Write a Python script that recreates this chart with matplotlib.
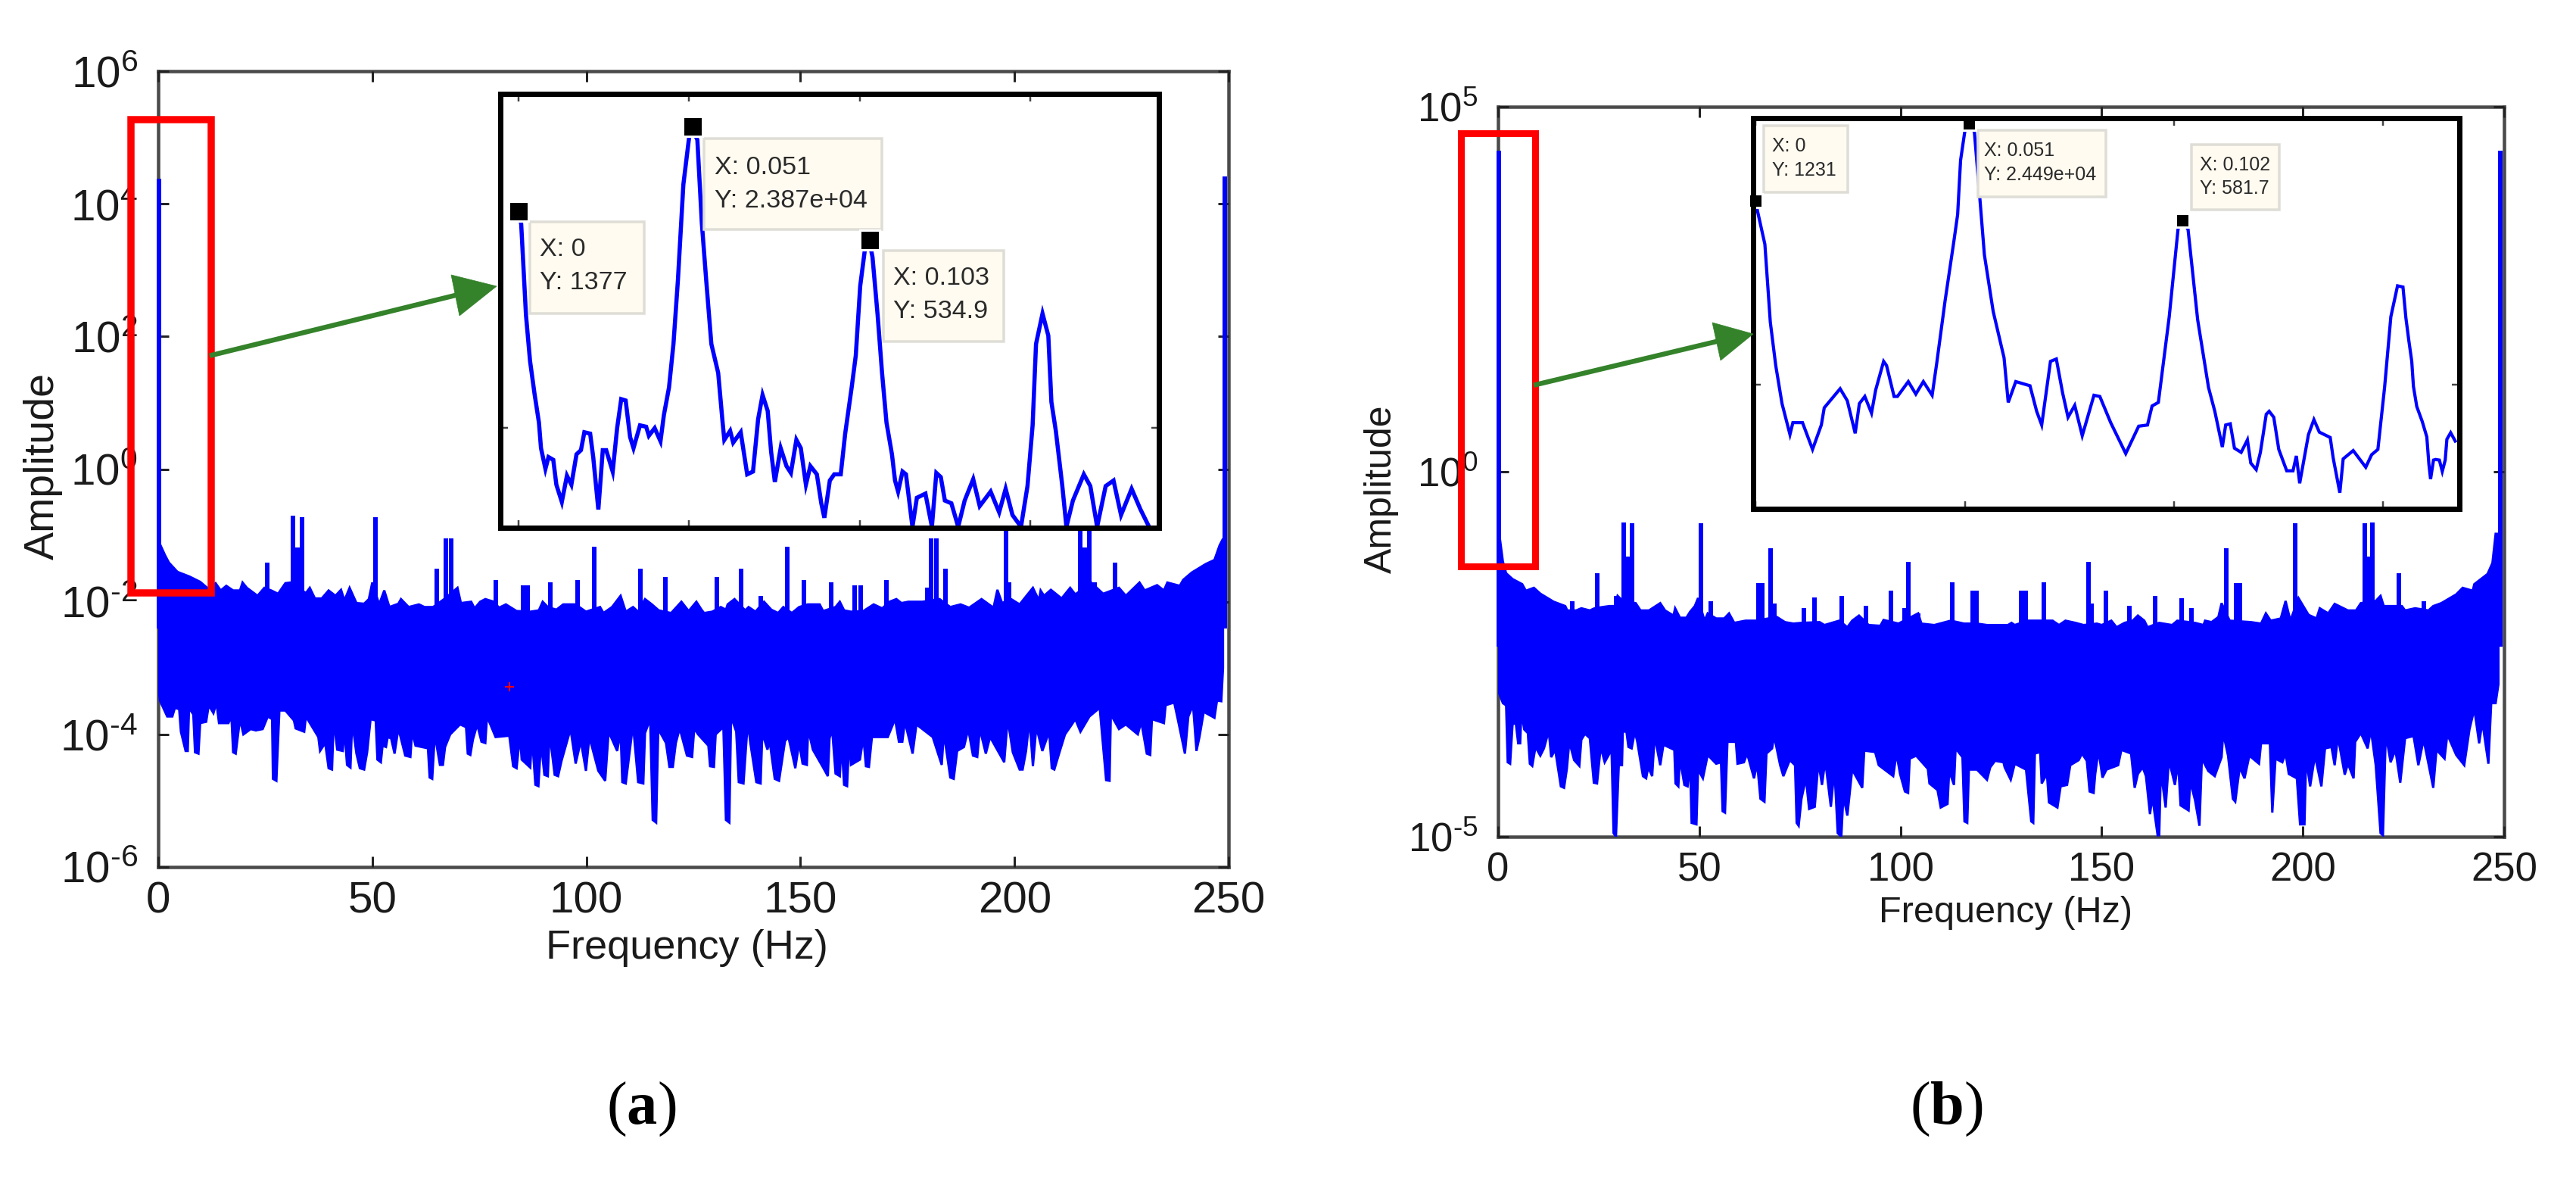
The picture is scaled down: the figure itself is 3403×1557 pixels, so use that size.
import numpy as np
import matplotlib
matplotlib.use("Agg")
import matplotlib.pyplot as plt
from matplotlib.lines import Line2D
from matplotlib.patches import Polygon, Rectangle

plt.rcParams['font.family'] = ['Liberation Sans', 'DejaVu Sans']
plt.rcParams['mathtext.fontset'] = 'custom'
plt.rcParams['mathtext.rm'] = 'Liberation Sans'
plt.rcParams['mathtext.it'] = 'Liberation Sans:italic'
plt.rcParams['mathtext.bf'] = 'Liberation Serif:bold'
plt.rcParams['mathtext.default'] = 'regular'

# ---- values: (frequency Hz, log10 amplitude) ----
a_upper = [(0.1,-1.1),(0.4,-1.13),(1.6,-1.30),(2.5,-1.41),(4.5,-1.55),(7.3,-1.62),(9.8,-1.70),(11.8,-1.81),(13.4,-1.72),(14.6,-1.83),(15.9,-1.76),(17.5,-1.83),(19.1,-1.83),(19.7,-1.71),(20.7,-1.79),(23.2,-1.91),(24.8,-1.79),(26.4,-1.83),(28.0,-1.88),(29.7,-1.72),(30.9,-1.71),(34.5,-1.87),(35.4,-1.79),(36.6,-1.95),(38.2,-1.95),(39.8,-1.83),(41.4,-1.91),(42.7,-1.82),(43.5,-1.98),(44.7,-1.79),(46.3,-2.02),(48.1,-2.03),(49.2,-1.96),(50.0,-1.71),(51.6,-2.04),(52.8,-1.83),(54.0,-2.08),(56.1,-2.03),(56.7,-1.96),(58.5,-2.08),(60.9,-2.04),(62.2,-2.08),(64.2,-2.08),(67.0,-1.95),(69.9,-1.79),(70.7,-2.02),(73.1,-2.0),(73.9,-2.1),(75.2,-2.0),(76.4,-1.96),(78.4,-2.0),(79.6,-2.09),(81.2,-2.04),(83.7,-2.14),(86.9,-2.15),(88.9,-2.13),(89.8,-2.0),(91.0,-2.08),(93.0,-2.12),(94.6,-2.04),(97.5,-2.04),(99.9,-2.15),(103.2,-2.08),(104.0,-2.17),(106.0,-2.08),(108.0,-1.91),(109.2,-2.15),(110.9,-2.08),(112.1,-2.15),(113.7,-1.96),(115.3,-2.04),(116.9,-2.13),(119.8,-2.17),(122.2,-2.0),(123.9,-2.14),
(125.7,-2.0),(126.9,-2.12),(127.5,-2.17),(129.4,-2.15),(131.4,-2.08),(132.6,-2.12),(133.0,-2.04),(134.6,-1.96),(137.1,-2.13),(137.9,-2.08),(139.5,-2.15),(141.5,-2.0),(143.2,-2.12),(144.8,-2.17),(146.0,-2.08),(148.0,-2.17),(149.7,-2.08),(151.7,-2.04),(154.5,-2.04),(155.3,-2.14),(158.2,-2.08),(159.2,-2.0),(160.2,-2.13),(161.8,-2.15),(164.7,-2.14),(167.1,-2.04),(169.1,-2.1),(170.8,-2.0),(172.4,-1.96),(173.6,-2.02),(175.2,-2.0),(178.5,-2.0),(182.5,-1.96),(185.0,-2.08),(187.4,-2.04),(189.4,-2.09),(192.3,-1.96),(195.1,-2.09),(196.0,-1.82),(197.1,-2.02),(199.2,-1.96),(201.2,-2.04),(202.8,-1.91),(204.3,-1.79),(205.7,-1.98),(206.1,-1.83),(206.9,-1.91),(208.5,-1.82),(211.0,-1.95),(213.0,-1.79),(214.2,-1.89),(217.9,-1.71),(220.7,-1.88),(224.4,-1.79),(226.0,-1.91),(229.2,-1.71),(230.4,-1.83),(233.3,-1.75),(234.9,-1.83),(235.7,-1.71),(238.6,-1.76),(239.4,-1.67),(241.4,-1.56),(244.7,-1.43),(246.7,-1.37),(247.9,-1.15),(248.7,-1.05)]

a_lower = [(0.1,-3.3),(0.4,-3.49),(2.1,-3.73),(3.3,-3.73),(3.9,-3.6),(4.9,-3.62),(5.3,-3.96),(6.4,-4.25),(6.9,-4.25),(7.2,-3.6),(8.2,-3.70),(8.6,-4.27),(9.4,-4.29),(9.8,-3.83),(11.2,-3.81),(11.8,-3.56),(12.9,-3.68),(13.6,-3.52),(14.2,-3.83),(16.4,-3.83),(17.1,-3.73),(17.5,-4.27),(18.1,-4.29),(19.1,-3.77),(19.9,-4.0),(21.6,-3.92),(22.8,-3.94),(24.4,-3.92),(25.6,-3.73),(26.6,-3.77),(26.8,-4.67),(27.6,-4.70),(28.3,-3.64),(29.7,-3.64),(31.7,-3.79),(32.1,-3.91),(34.1,-3.96),(34.5,-3.73),(37.4,-4.04),(37.8,-4.25),(39.0,-4.13),(39.8,-4.51),(40.6,-4.53),(41.0,-3.77),(41.8,-4.23),(43.1,-4.25),(43.5,-3.92),(44.1,-4.46),(44.9,-4.5),(45.3,-3.81),(46.3,-4.29),(47.1,-4.51),(48.1,-4.53),(48.8,-4.27),(49.6,-3.77),(50.8,-3.79),(51.2,-4.38),(52.0,-4.42),(52.4,-4.17),(53.2,-4.19),(53.6,-4.04),(54.4,-4.06),(55.2,-4.29),(56.1,-3.91),(57.7,-4.32),(58.9,-4.34),(59.3,-3.96),(60.1,-4.17),(63.0,-4.21),(63.4,-4.65),(64.0,-4.67),(64.6,-4.0),(65.8,-4.46),(66.5,-4.46),(67.0,-4.19),(68.2,-4.0),(70.5,-3.85),(71.9,-3.89),(72.3,-4.29),(72.9,-4.31),(73.5,-4.08),(74.5,-3.85),(75.5,-4.11),(76.4,-4.13),(76.8,-3.73),(78.8,-4.04),(82.0,-4.02),(82.9,-4.48),(83.7,-4.51),(84.5,-4.02),(84.9,-4.38),(86.9,-4.5),(87.3,-4.04),(88.1,-4.76),(88.8,-4.78),(89.4,-4.13),(90.2,-4.61),(91.0,-4.63),(91.4,-3.98),(92.6,-4.61),(93.4,-4.63),(94.2,-4.4),(96.3,-3.92),(97.5,-4.44),(98.7,-4.1),(99.9,-4.55),(100.7,-4.04),(102.8,-4.55),(104.4,-4.7),(105.2,-3.96),(107.2,-4.25),(108.0,-3.96),(108.4,-4.72),(109.2,-4.74),(110.9,-3.85),(112.1,-4.72),(113.3,-4.74),(113.7,-3.98),(114.9,-3.77),(115.5,-5.29),(116.3,-5.33),(116.8,-3.92),(118.6,-4.13),(119.4,-4.49),(120.2,-4.49),(120.9,-4.13),(121.8,-3.91),(123.5,-4.32),(124.7,-4.34),(125.2,-3.91),
(126.1,-4.0),(128.5,-4.17),(128.9,-4.48),(129.8,-4.49),(130.2,-4.0),(132.0,-3.89),(132.6,-5.29),(133.4,-5.33),(133.8,-3.73),(135.0,-3.96),(135.6,-4.72),(136.7,-4.74),(137.7,-3.81),(138.3,-4.13),(139.7,-4.72),(140.7,-4.74),(141.1,-3.98),(142.3,-4.23),(142.8,-4.1),(144.0,-4.67),(145.0,-4.7),(146.4,-4.1),(147.2,-4.04),(148.8,-4.51),(149.7,-4.13),(150.5,-4.44),(151.5,-4.46),(151.8,-3.92),(152.9,-4.23),(155.3,-4.5),(156.4,-4.63),(156.8,-4.06),(157.4,-3.92),(158.2,-4.59),(159.2,-4.63),(159.6,-4.13),(160.2,-4.76),(160.9,-4.78),(161.4,-4.06),(161.8,-4.46),(163.9,-4.38),(164.7,-4.04),(165.3,-4.48),(166.0,-4.49),(166.7,-4.04),(170.4,-4.04),(172.1,-3.77),(173.0,-4.11),(173.8,-4.11),(174.4,-3.81),(176.2,-4.29),(177.1,-3.85),(180.9,-4.04),(183.0,-4.46),(183.5,-3.98),(185.0,-4.65),(185.8,-4.67),(186.6,-4.25),(188.2,-4.19),(189.2,-3.92),(190.3,-4.32),(191.3,-4.34),(191.9,-3.92),(193.3,-4.29),(194.3,-4.04),(197.6,-4.42),(198.4,-3.77),(199.6,-4.27),(201.2,-4.53),(201.9,-4.53),(202.7,-4.25),(203.5,-3.77),(204.3,-4.48),(205.1,-3.89),(206.5,-4.25),(208.1,-3.96),(208.7,-4.51),(209.3,-4.53),(210.6,-4.25),(211.8,-4.0),(213.4,-3.85),(214.2,-3.77),(215.4,-3.96),(217.5,-3.73),(219.9,-3.6),(221.4,-4.69),(222.2,-4.7),(222.5,-3.70),(224.4,-3.92),(226.0,-3.85),(228.8,-4.0),(229.6,-3.81),(230.9,-4.29),(231.7,-4.31),(232.1,-3.77),(234.9,-3.83),(235.3,-3.56),(237.3,-3.52),(238.2,-3.79),(239.8,-4.29),(240.6,-3.73),(241.7,-3.56),(242.5,-4.25),(243.2,-4.04),(244.2,-3.66),(246.7,-3.75),(247.3,-3.49),(248.3,-3.5),(248.7,-3.0)]

a_spike_f = [0.1,249.1,25.5,31.5,32.5,33.6,50.8,65.0,67.2,68.4,78.8,85.2,86.3,91.6,98.0,101.8,112.7,118.4,130.4,136.1,140.7,147.0,150.9,157.2,162.7,164.0,170.0,179.7,180.6,181.8,183.9,198.0,198.8,215.4,216.4,217.4,218.7,223.5]
a_spike_e = [4.38,4.41,-1.41,-0.70,-1.18,-0.72,-0.72,-1.50,-1.05,-1.05,-1.67,-1.75,-1.75,-1.71,-1.67,-1.17,-1.50,-1.63,-1.63,-1.50,-1.91,-1.17,-1.67,-1.71,-1.75,-1.75,-1.67,-1.79,-1.05,-1.05,-1.50,-0.72,-1.71,-0.72,-1.18,-0.70,-1.71,-1.41]

b_upper = [(0.1,-0.85),(0.3,-0.85),(1.2,-1.23),(2.0,-1.39),(3.6,-1.47),(6.0,-1.54),(6.9,-1.63),(8.9,-1.59),(10.5,-1.67),(13.8,-1.78),(16.7,-1.84),(17.2,-1.9),(18.0,-1.9),(19.4,-1.9),(20.7,-1.87),(22.8,-1.9),(24.0,-1.87),(26.4,-1.85),(27.7,-1.84),(29.1,-1.84),(29.7,-1.7),(31.0,-1.77),(34.2,-1.8),(35.4,-1.9),(37.5,-1.9),(40.3,-1.8),(41.5,-1.9),(43.6,-1.97),(44.0,-1.87),(45.2,-2.0),(46.8,-2.0),(47.7,-1.92),(48.9,-1.84),(49.7,-1.73),(51.3,-2.04),(52.1,-1.94),(54.2,-2.01),(56.2,-2.01),(57.4,-1.94),(58.7,-2.07),(61.5,-2.04),(64.0,-2.04),(69.3,-1.99),(71.3,-2.06),(73.4,-2.08),(75.4,-2.07),(79.9,-2.06),(81.1,-2.1),(84.8,-2.04),(86.8,-2.13),(88.0,-2.04),(89.7,-1.97),(92.1,-2.1),(95.0,-2.11),(95.8,-2.03),(99.5,-2.08),(104.4,-1.94),(105.2,-2.08),(108.4,-2.1),(112.5,-2.04),(115.8,-2.08),(119.0,-2.08),(121.5,-2.1),
(124.3,-2.1),(126.7,-2.1),(127.6,-2.07),(128.4,-2.1),(131.6,-2.04),(134.1,-2.04),(137.8,-2.04),(139.4,-2.1),(141.0,-2.04),(143.5,-2.07),(145.5,-2.1),(148.8,-2.08),(150.0,-2.1),(152.4,-2.04),(153.7,-2.13),(155.7,-2.07),(157.7,-2.04),(159.0,-1.97),(160.6,-2.04),(161.4,-2.13),(164.3,-2.07),(167.5,-2.1),(168.8,-2.04),(173.2,-2.07),(175.3,-2.1),(175.7,-2.04),(177.3,-2.06),(179.0,-1.99),(179.8,-1.8),(181.8,-2.04),(187.1,-2.06),(189.6,-2.08),(190.8,-1.94),(192.0,-2.04),(194.5,-2.01),(195.7,-1.77),(196.9,-2.04),(198.9,-1.73),(201.4,-1.96),(203.4,-2.01),(204.2,-1.87),(206.3,-1.94),(207.9,-1.81),(211.2,-1.9),(213.2,-1.9),(214.4,-1.8),(218.1,-1.77),(219.3,-1.7),(220.1,-1.84),(224.6,-1.84),(225.4,-1.9),(227.9,-1.87),(231.2,-1.9),(232.4,-1.84),(234.4,-1.8),(238.1,-1.68),(239.7,-1.59),(242.2,-1.63),(242.6,-1.54),(245.9,-1.4),(247.1,-1.25),(247.9,-0.85),(248.6,-0.85)]

b_lower = [(0.1,-3.01),(1.2,-3.17),(2.0,-3.2),(2.4,-3.98),(3.0,-4.0),(3.6,-3.46),(4.4,-3.44),(5.0,-3.72),(5.5,-3.72),(5.8,-3.29),(6.5,-3.53),(7.4,-3.58),(7.9,-4.0),(8.5,-4.03),(9.3,-3.77),(10.5,-3.89),(11.4,-3.79),(12.6,-3.55),(13.2,-3.91),(14.2,-3.81),(15.6,-4.31),(16.4,-4.33),(17.1,-4.07),(17.7,-3.7),(18.9,-3.95),(20.2,-4.03),(20.7,-3.67),(21.6,-3.59),(22.8,-3.65),(23.8,-4.26),(24.6,-4.27),(25.5,-3.77),(26.5,-3.98),(27.7,-3.86),(28.1,-3.58),(28.7,-4.95),(29.3,-5.0),(30.0,-4.02),(30.8,-4.02),(31.0,-3.56),(31.9,-3.56),(32.4,-3.77),(33.2,-3.79),(34.0,-3.56),(34.6,-3.7),(36.0,-4.17),(36.8,-4.2),(37.3,-4.05),(38.3,-4.17),(38.9,-3.62),(40.3,-4.02),(41.1,-3.74),(43.8,-3.81),(44.1,-4.27),(44.8,-4.31),(45.2,-3.93),(46.3,-4.29),(47.1,-4.31),(47.7,-3.98),(48.1,-4.81),(49.3,-4.83),(49.7,-4.08),(50.9,-4.2),(52.1,-3.88),(54.2,-4.0),(55.4,-3.98),(55.8,-4.65),(56.4,-4.67),(57.0,-3.7),(59.1,-3.7),(59.5,-4.0),(61.1,-3.98),(61.9,-3.86),(63.6,-4.2),(64.4,-4.0),(65.2,-4.48),(66.2,-4.52),(66.7,-3.86),(68.1,-3.79),(68.6,-3.62),(70.1,-4.02),(70.9,-4.17),(72.5,-3.95),(73.8,-4.02),(74.2,-4.81),(74.7,-4.85),(75.4,-4.48),(76.5,-4.2),(77.3,-4.62),(78.7,-4.59),(79.6,-3.98),(80.5,-4.29),(81.3,-3.96),(82.7,-4.59),(83.6,-4.08),(84.4,-4.95),(85.3,-5.0),(85.8,-4.45),(86.8,-4.71),(88.0,-4.08),(90.5,-4.33),(91.0,-3.82),(93.7,-3.84),(94.6,-4.02),(98.2,-4.17),(99.0,-3.86),(99.9,-4.14),(101.1,-4.38),(101.9,-4.4),(102.3,-3.93),(103.9,-3.89),(106.8,-4.07),(107.2,-4.27),(109.2,-4.36),(110.0,-4.6),(111.7,-4.55),(112.1,-4.1),(113.3,-4.29),(113.7,-3.79),(115.4,-3.91),(115.9,-4.79),(116.6,-4.81),(117.0,-4.08),(119.0,-4.08),(121.5,-4.22),(122.3,-4.05),(123.5,-3.96),(125.6,-3.98),
(125.9,-4.05),(127.4,-4.22),(128.4,-4.0),(131.2,-4.08),(132.5,-4.79),(133.0,-4.81),(133.4,-3.86),(134.7,-3.84),(135.1,-4.27),(136.4,-4.14),(136.9,-4.53),(139.0,-4.6),(139.8,-4.31),(141.4,-4.29),(142.2,-4.02),(144.3,-3.95),(145.1,-3.86),(146.3,-3.96),(147.0,-4.38),(148.0,-4.4),(148.4,-4.14),(149.2,-3.82),(150.2,-4.19),(151.2,-4.08),(154.1,-4.02),(154.9,-3.81),(157.3,-3.86),(158.2,-4.33),(159.0,-4.14),(160.2,-4.05),(161.0,-4.17),(162.0,-4.69),(162.6,-4.46),(163.9,-4.98),(164.3,-4.98),(164.7,-4.1),(165.9,-4.6),(166.7,-3.95),(168.2,-4.29),(169.0,-3.98),(169.6,-4.57),(171.6,-4.64),(172.0,-4.24),(173.2,-4.5),(174.3,-4.85),(174.9,-3.93),(176.5,-4.1),(178.1,-4.17),(179.8,-3.91),(180.2,-3.58),(181.4,-3.89),(182.6,-4.48),(183.2,-4.52),(184.3,-4.05),(185.5,-4.2),(186.7,-3.89),(189.1,-4.0),(189.6,-3.72),(191.8,-3.72),(192.4,-4.67),(193.2,-3.93),(194.9,-3.98),(195.7,-3.86),(196.5,-4.14),(198.5,-4.2),(199.3,-4.83),(200.4,-4.83),(200.8,-3.93),(201.8,-4.31),(203.0,-3.89),(204.6,-4.31),(205.5,-3.79),(207.1,-3.77),(207.9,-4.02),(208.7,-3.63),(210.4,-4.15),(211.2,-4.0),(212.6,-4.2),(213.0,-3.7),(214.4,-3.58),(216.1,-3.79),(216.9,-3.53),(218.1,-4.02),(219.3,-4.95),(219.9,-4.98),(220.6,-3.6),(221.8,-3.98),(223.0,-3.81),(224.2,-4.26),(225.4,-3.65),(227.5,-3.62),(228.7,-4.02),(230.0,-3.67),(232.4,-4.33),(233.2,-3.81),(235.2,-3.93),(235.9,-3.6),(238.1,-3.88),(240.1,-4.02),(241.4,-3.53),(242.6,-3.25),(243.8,-3.72),(244.6,-3.43),(246.1,-4.0),(246.8,-3.17),(247.9,-3.17),(248.6,-2.91)]

b_spike_f = [0.1,249.1,18.5,24.7,29.3,31.3,32.3,33.3,50.5,52.8,64.7,65.6,67.7,68.6,76.0,78.7,85.4,91.5,97.7,101.1,101.9,104.4,112.9,118.0,118.9,129.9,131.2,135.6,146.7,147.5,151.0,156.9,163.2,169.8,172.4,181.0,183.4,184.4,198.1,215.3,216.2,217.3,223.8,230.1]
b_spike_e = [4.40,4.40,-1.77,-1.39,-1.7,-0.69,-1.16,-0.71,-0.71,-1.77,-1.53,-1.53,-1.05,-1.8,-1.87,-1.72,-1.7,-1.84,-1.63,-1.87,-1.23,-1.94,-1.51,-1.63,-1.63,-1.63,-1.63,-1.51,-1.23,-1.8,-1.63,-1.84,-1.7,-1.73,-1.87,-1.05,-1.53,-1.53,-0.71,-0.71,-1.16,-0.69,-1.39,-1.77]

a_inset = [(0.0,3.14),(0.0008,2.96),(0.0022,1.64),(0.0034,0.97),(0.0047,0.50),(0.0060,0.08),(0.0066,-0.29),(0.0079,-0.59),(0.0088,-0.42),(0.0102,-0.46),(0.0111,-0.82),(0.0127,-1.07),(0.0142,-0.69),(0.0155,-0.82),(0.0170,-0.38),(0.0183,-0.32),(0.0193,-0.06),(0.0210,-0.08),(0.0219,-0.42),(0.0234,-1.18),(0.0247,-0.32),(0.0257,-0.32),(0.0276,-0.63),(0.0289,0.0),(0.0301,0.42),(0.0314,0.40),(0.0327,-0.13),(0.0337,-0.29),(0.0356,0.04),(0.0374,0.02),(0.0382,-0.11),(0.0399,0.0),(0.0416,-0.19),(0.0426,0.19),(0.0441,0.59),(0.0454,1.22),(0.0467,2.14),(0.0483,3.53),(0.0499,4.18),(0.0505,4.38),(0.0524,4.18),(0.0537,2.98),(0.0550,2.14),(0.0565,1.22),(0.0585,0.80),(0.0598,0.08),(0.0603,-0.17),(0.0620,-0.04),(0.0629,-0.21),(0.0651,-0.06),(0.0670,-0.67),(0.0687,-0.63),(0.0702,0.13),(0.0715,0.48),(0.0730,0.25),(0.0740,-0.34),(0.0751,-0.78),(0.0768,-0.29),(0.0785,-0.55),(0.0798,-0.65),(0.0814,-0.17),(0.0827,-0.29),(0.0842,-0.82),(0.0855,-0.55),(0.0874,-0.67),(0.0887,-1.09),(0.0896,-1.30),(0.0912,-0.76),(0.0925,-0.67),(0.0944,-0.67),(0.0957,-0.08),(0.0976,0.59),(0.0988,1.05),(0.1001,2.06),(0.1014,2.56),(0.1027,2.73),(0.1037,2.48),(0.1052,1.64),(0.1065,0.80),(0.1078,0.08),(0.1094,-0.38),(0.1103,-0.76),(0.1112,-0.92),(0.1125,-0.63),(0.1135,-0.67),(0.1154,-1.43),(0.1167,-1.01),(0.1192,-0.95),(0.1211,-1.43),(0.1224,-0.65),(0.1237,-0.71),(0.1249,-1.05),(0.1268,-1.09),(0.1288,-1.43),(0.1307,-1.05),(0.1332,-0.74),(0.1351,-1.13),(0.1383,-0.92),(0.1408,-1.22),(0.1427,-0.88),(0.1447,-1.26),(0.1472,-1.43),(0.1491,-0.84),(0.1506,0.04),(0.1516,1.22),(0.1535,1.66),(0.1552,1.34),(0.1561,0.38),(0.1574,-0.04),(0.1593,-0.84),(0.1605,-1.43),(0.1624,-1.05),(0.1656,-0.67),(0.1675,-0.84),(0.1695,-1.43),(0.1720,-0.84),(0.1743,-0.76),(0.1765,-1.26),(0.1796,-0.88),(0.1822,-1.18),(0.1847,-1.43)]

b_inset = [(0.0,3.09),(0.0004,2.93),(0.0022,2.36),(0.0035,1.05),(0.0048,0.32),(0.0063,-0.32),(0.0082,-0.84),(0.0089,-0.64),(0.0112,-0.64),(0.0136,-1.09),(0.0157,-0.68),(0.0164,-0.39),(0.0202,-0.07),(0.0219,-0.27),(0.0238,-0.82),(0.0248,-0.32),(0.0261,-0.20),(0.0277,-0.48),(0.0287,-0.09),(0.0306,0.39),(0.0313,0.32),(0.0331,-0.20),(0.0339,-0.20),(0.0365,0.05),(0.0383,-0.16),(0.0401,0.05),(0.0422,-0.18),(0.0433,0.36),(0.0453,1.41),(0.0474,2.41),(0.0483,2.86),(0.0490,3.77),(0.05,4.25),(0.0508,4.39),(0.0523,4.25),(0.0535,3.23),(0.0547,2.18),(0.0568,1.23),(0.0594,0.45),(0.0604,-0.30),(0.0622,0.05),(0.0656,-0.02),(0.0672,-0.45),(0.0684,-0.68),(0.0705,0.39),(0.0719,0.43),(0.0734,-0.14),(0.0747,-0.55),(0.0763,-0.35),(0.0781,-0.86),(0.0809,-0.18),(0.0823,-0.20),(0.0849,-0.64),(0.0885,-1.16),(0.0916,-0.70),(0.0937,-0.68),(0.0948,-0.36),(0.0963,-0.30),(0.0989,1.14),(0.1010,2.61),(0.1018,2.76),(0.1034,2.61),(0.1057,1.09),(0.1083,-0.05),(0.1098,-0.45),(0.1116,-1.05),(0.1124,-0.68),(0.1135,-0.66),(0.1145,-1.07),(0.1161,-1.14),(0.1176,-0.93),(0.1184,-1.32),(0.1197,-1.43),(0.1207,-1.14),(0.1221,-0.5),(0.1228,-0.45),(0.1239,-0.55),(0.1251,-1.09),(0.1270,-1.45),(0.1285,-1.45),(0.1293,-1.2),(0.1301,-1.66),(0.1322,-0.84),(0.1335,-0.59),(0.1348,-0.8),(0.1374,-0.89),(0.1381,-1.23),(0.1397,-1.82),(0.1405,-1.25),(0.1429,-1.11),(0.1459,-1.39),(0.1473,-1.18),(0.1488,-1.09),(0.1504,-0.05),(0.1519,1.14),(0.1535,1.66),(0.1548,1.64),(0.1555,1.12),(0.1562,0.74),(0.1569,0.39),(0.1573,-0.03),(0.1581,-0.37),(0.1594,-0.62),(0.1605,-0.88),(0.1610,-1.34),(0.1614,-1.59),(0.1621,-1.27),(0.1626,-1.26),(0.1635,-1.27),(0.1642,-1.46),(0.1649,-1.27),(0.1653,-0.92),(0.1662,-0.81),(0.1673,-0.95)]

a_tips_x = [0.0, 0.051, 0.103]
a_tips_y = [1377, 2.387e4, 534.9]
a_tips_text = [("X: 0", "Y: 1377"), ("X: 0.051", "Y: 2.387e+04"), ("X: 0.103", "Y: 534.9")]
b_tips_x = [0.0, 0.051, 0.102]
b_tips_y = [1231, 2.449e4, 581.7]
b_tips_text = [("X: 0", "Y: 1231"), ("X: 0.051", "Y: 2.449e+04"), ("X: 0.102", "Y: 581.7")]

x_ticks = [0, 50, 100, 150, 200, 250]
a_yticks = [-6, -4, -2, 0, 2, 4, 6]
b_yticks = [-5, 0, 5]
xlabel = "Frequency (Hz)"
ylabel = "Amplitude"

# ---- layout (pixels of the 3403x1557 canvas) ----
W, H = 3403, 1557
DPI = 100
BLUE = "#0000FF"
GREEN = "#34822A"
RED = "#FF0000"
PT = 72.0 / DPI


def fx(x):
    return x / W


def fy(y):
    return 1 - y / H


def axes_px(fig, l, t, r, b):
    return fig.add_axes([l / W, 1 - b / H, (r - l) / W, (b - t) / H])


def exp_label(e):
    s = str(abs(e))
    if e < 0:
        s = r"\text{-}" + s
    return r"$10^{" + s + "}$"


def main_panel(fig, rect, ylim, yticks, upper, lower, spike_f, spike_e,
               fs_tick, fs_label, xlab_xy, ylab_xy):
    ax = axes_px(fig, *rect)
    ax.set_xscale("linear")
    ax.set_yscale("log")
    up = np.array(upper).T
    lo = np.array(lower).T
    px = np.concatenate([up[0], lo[0][::-1]])
    py = 10.0 ** np.concatenate([up[1], lo[1][::-1]])
    ax.fill(px, py, facecolor=BLUE, edgecolor=BLUE, lw=3.0 * PT, joinstyle="miter", zorder=3)
    ax.vlines(spike_f, 10.0 ** -2.4, 10.0 ** np.array(spike_e), color=BLUE,
              lw=6.0 * PT, capstyle="butt", zorder=3, clip_on=False)
    ax.set_xlim(0, 250)
    ax.set_ylim(10.0 ** ylim[0], 10.0 ** ylim[1])
    ax.set_xticks(x_ticks)
    ax.set_xticklabels([str(v) for v in x_ticks])
    ax.set_yticks([10.0 ** e for e in yticks])
    ax.set_yticklabels([exp_label(e) for e in yticks])
    ax.yaxis.set_minor_locator(matplotlib.ticker.NullLocator())
    ax.tick_params(axis="both", which="major", direction="in", top=True, right=True,
                   length=14 * PT, width=3 * PT, labelsize=fs_tick, color="#222222",
                   labelcolor="#1a1a1a")
    ax.tick_params(axis="x", pad=19 * PT)
    ax.tick_params(axis="y", pad=27 * PT)
    for side, sp in ax.spines.items():
        sp.set_linewidth(4.5 * PT)
        sp.set_color("#4a4a4a")
        sp.set_zorder(1)
    fig.text(fx(xlab_xy[0]), fy(xlab_xy[1]), xlabel, fontsize=fs_label, color="#1a1a1a",
             ha="center", va="center")
    fig.text(fx(ylab_xy[0]), fy(ylab_xy[1]), ylabel, fontsize=fs_label + 1, color="#1a1a1a",
             ha="center", va="center", rotation=90)
    return ax


def inset_panel(fig, rect, xlim, elim, curve, tips_x, tips_y, tips_text, boxes, marker_px, fs, lw):
    ax = axes_px(fig, *rect)
    ax.set_yscale("log")
    c = np.array(curve).T
    ax.plot(c[0], 10.0 ** c[1], color=BLUE, lw=lw * PT, solid_joinstyle="miter", zorder=2)
    ax.set_xlim(*xlim)
    ax.set_ylim(10.0 ** elim[0], 10.0 ** elim[1])
    ax.set_xticks([0.0, 0.05, 0.10, 0.15])
    ax.set_yticks([1.0])
    ax.yaxis.set_minor_locator(matplotlib.ticker.NullLocator())
    ax.tick_params(axis="both", which="major", direction="in", top=True, right=True,
                   length=10 * PT, width=2.5 * PT, labelbottom=False, labelleft=False,
                   color="#444444")
    for sp in ax.spines.values():
        sp.set_linewidth(7 * PT)
        sp.set_color("black")
        sp.set_zorder(8)
    for (l, t, r, b, tx, y1, y2), (s1, s2) in zip(boxes, tips_text):
        ax.add_patch(Rectangle((fx(l), fy(b)), (r - l) / W, (b - t) / H, transform=fig.transFigure,
                               facecolor="#FFFBF0", edgecolor="#DEDDD6", lw=3.5 * PT,
                               zorder=4, clip_on=False))
        for s, yy in ((s1, y1), (s2, y2)):
            ax.text(fx(tx), fy(yy), s, transform=fig.transFigure, fontsize=fs, color="#2a2a2a",
                    ha="left", va="center", zorder=5, clip_on=False)
    ax.plot(tips_x, tips_y, ls="none", marker="s", ms=marker_px * PT, mfc="black", mec="white",
            mew=3 * PT, zorder=6, clip_on=False)
    return ax


def red_box(fig, l, t, r, b, lw):
    fig.add_artist(Rectangle((fx(l), fy(b)), (r - l) / W, (b - t) / H, transform=fig.transFigure,
                             fill=False, edgecolor=RED, lw=lw * PT, joinstyle="miter", zorder=9))


def green_arrow(fig, start, tip, b1, b2):
    base = ((b1[0] + b2[0]) / 2, (b1[1] + b2[1]) / 2)
    fig.add_artist(Line2D([fx(start[0]), fx(base[0])], [fy(start[1]), fy(base[1])],
                          transform=fig.transFigure, color=GREEN, lw=6.5 * PT, zorder=10))
    fig.add_artist(Polygon([(fx(tip[0]), fy(tip[1])), (fx(b1[0]), fy(b1[1])), (fx(b2[0]), fy(b2[1]))],
                           closed=True, transform=fig.transFigure, facecolor=GREEN, edgecolor=GREEN,
                           lw=0.5, zorder=10))


fig = plt.figure(figsize=(W / DPI, H / DPI), dpi=DPI, facecolor="white")

ax_a = main_panel(fig, (209, 94, 1623, 1145), (-6, 6), a_yticks, a_upper, a_lower, a_spike_f, a_spike_e,
                  42, 39, (907, 1252), (57, 615))
ax_a.plot([82.0], [10.0 ** -3.28], ls="none", marker="+", ms=12 * PT, mew=2 * PT, color=RED, zorder=4)

ax_b = main_panel(fig, (1979, 141, 3308, 1105), (-5, 5), b_yticks, b_upper, b_lower, b_spike_f, b_spike_e,
                  38, 35, (2649, 1205), (1825, 646))

inset_panel(fig, (661, 124, 1531, 697), (-0.0053, 0.1876), (-1.445, 4.845), a_inset,
            a_tips_x, a_tips_y, a_tips_text,
            [(700, 293, 851, 414, 713, 330, 374),
             (930, 183, 1165, 303, 944, 221, 265),
             (1167, 331, 1326, 451, 1180, 368, 412)], 26, 24.5, 5.5)
inset_panel(fig, (2316, 156, 3249, 672), (-0.0006, 0.1683), (-2.09, 4.48), b_inset,
            b_tips_x, b_tips_y, b_tips_text,
            [(2330, 166, 2441, 254, 2341, 193, 225),
             (2613, 172, 2782, 260, 2621, 199, 231),
             (2895, 191, 3011, 277, 2906, 218, 249)], 18, 18, 4.2)

red_box(fig, 172.5, 158, 278.5, 783, 9.5)
red_box(fig, 1930.5, 176, 2028, 748, 9)

green_arrow(fig, (280, 469), (656, 378), (596, 363), (607, 417))
green_arrow(fig, (2029, 508), (2316, 441), (2262, 426), (2273, 476))

fig.text(fx(847), fy(1465), r"($\mathbf{a}$)", fontsize=58, family="Liberation Serif",
         ha="center", va="center", color="black")
fig.text(fx(2571), fy(1465), r"($\mathbf{b}$)", fontsize=58, family="Liberation Serif",
         ha="center", va="center", color="black")

fig.savefig("out.png", dpi=DPI, facecolor="white")
